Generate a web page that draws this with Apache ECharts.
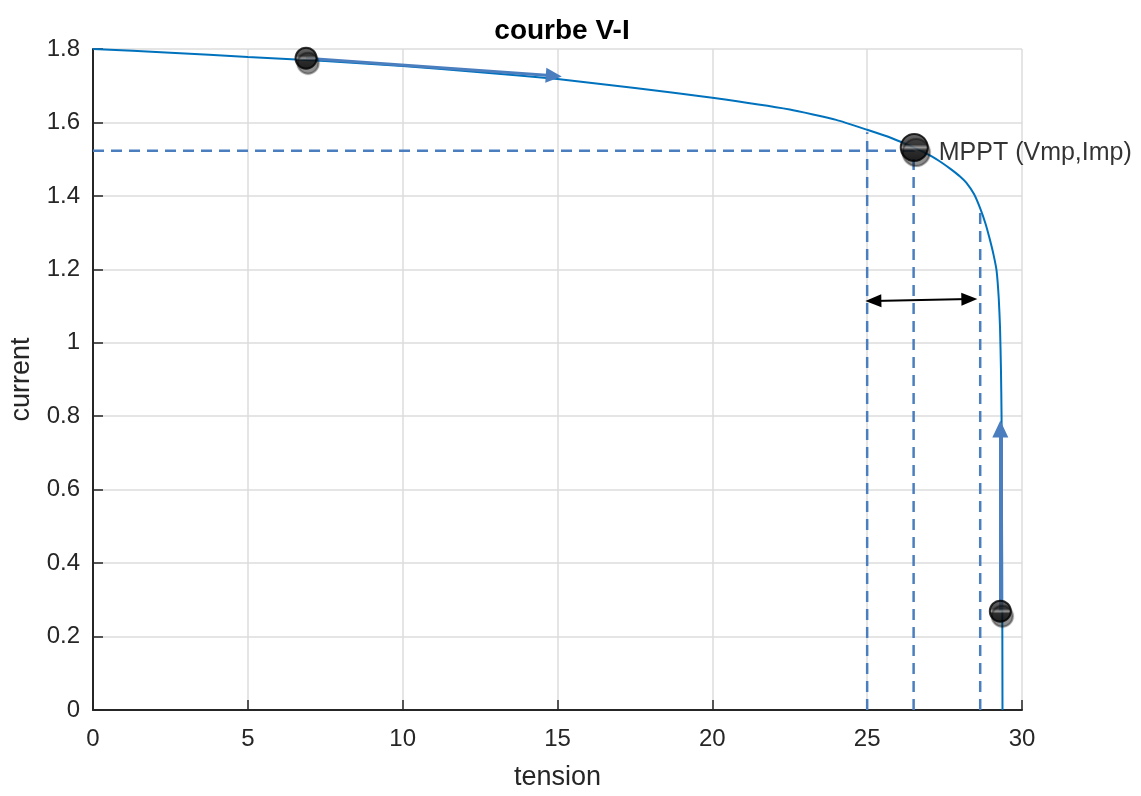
<!DOCTYPE html>
<html>
<head>
<meta charset="utf-8">
<script src="https://cdn.jsdelivr.net/npm/echarts@6/dist/echarts.min.js"></script>
<style>
  html, body {margin: 0; padding: 0; background: #fff; overflow: hidden;}
  #chart {width: 1141px; height: 796px;}
</style>
</head>
<body>
<div id="chart"></div>
<script>
// I-V curve
const tension = [0, 2.5, 5, 7.5, 10, 12.5, 15, 17.5, 20, 22.5, 24, 25, 25.8, 26.5, 27.1, 27.4, 27.7, 28.0, 28.2, 28.45, 28.65, 28.82, 28.95, 29.08, 29.18, 29.25, 29.29, 29.32, 29.34, 29.36, 29.37]
const current = [1.8, 1.79, 1.778, 1.767, 1.754, 1.737, 1.718, 1.694, 1.667, 1.635, 1.607, 1.58, 1.557, 1.532, 1.507, 1.491, 1.473, 1.453, 1.436, 1.405, 1.366, 1.325, 1.285, 1.24, 1.196, 1.12, 1.043, 0.93, 0.8, 0.4, 0]

// the three operating points (start, MPPT, end)
const pointV = [6.88, 26.52, 29.3]
const pointI = [1.775, 1.532, 0.269]

// MPPT projections and the tracking band
const vmp = 26.5
const imp = 1.523
const bandV = [25, 28.65]
const bandTop = [1.573, 1.366]
// double arrow, head centres
const bandArrowV = [25.2, 28.3]
const bandArrowI = [1.114, 1.119]

// direction arrows [[v0, i0], [v1, i1]] (end = head centre)
const arrowTop = [[6.88, 1.775], [14.88, 1.727]]
const arrowRight = [[29.3, 0.27], [29.3, 0.765]]

const xTicks = [0, 5, 10, 15, 20, 25, 30]
const yTicks = [0, 0.2, 0.4, 0.6, 0.8, 1, 1.2, 1.4, 1.6, 1.8]

const font = 'Liberation Sans'
const dashBlue = '#4a7ebf'
const ink = '#262626'

const curve = tension.map((v, i) => [v, current[i]])

function dashed(points) {
  return {
    type: 'line',
    data: points,
    symbol: 'none',
    silent: true,
    z: 2,
    lineStyle: {color: dashBlue, width: 2.5, type: [11, 7]}
  }
}

const sphere = {
  type: 'linear', x: 0, y: 0, x2: 0, y2: 1,
  colorStops: [
    {offset: 0, color: '#444'},
    {offset: 0.4, color: '#1e1e1e'},
    {offset: 0.5, color: '#9a9a9a'},
    {offset: 0.6, color: '#141414'},
    {offset: 1, color: '#000'}
  ]
}

const chart = echarts.init(document.getElementById('chart'))

chart.setOption({
  animation: false,
  title: {
    text: 'courbe V-I',
    left: 557,
    textAlign: 'center',
    top: 12,
    textStyle: {fontFamily: font, fontSize: 28, fontWeight: 'bold', color: '#000'}
  },
  grid: {left: 93, top: 49, width: 929, height: 668},
  xAxis: {
    type: 'value',
    min: xTicks[0],
    max: xTicks[xTicks.length - 1],
    interval: 5,
    name: 'tension',
    nameLocation: 'middle',
    nameGap: 54,
    nameTextStyle: {fontFamily: font, fontSize: 27, color: ink},
    axisLine: {lineStyle: {color: ink, width: 2}},
    axisTick: {inside: true, length: 10, lineStyle: {color: ink, width: 1.5}},
    axisLabel: {fontFamily: font, fontSize: 24, color: ink, margin: 17},
    splitLine: {show: true, lineStyle: {color: '#dcdcdc', width: 1.5}}
  },
  yAxis: {
    type: 'value',
    min: yTicks[0],
    max: yTicks[yTicks.length - 1],
    interval: 0.2,
    name: 'current',
    nameLocation: 'middle',
    nameGap: 58,
    nameTextStyle: {fontFamily: font, fontSize: 27, color: ink},
    axisLine: {show: true, lineStyle: {color: ink, width: 2}},
    axisTick: {show: true, inside: true, length: 10, lineStyle: {color: ink, width: 1.5}},
    axisLabel: {fontFamily: font, fontSize: 24, color: ink, margin: 13},
    splitLine: {show: true, lineStyle: {color: '#dcdcdc', width: 1.5}}
  },
  series: [
    dashed([[0, imp], [vmp, imp]]),
    dashed([[vmp, 0], [vmp, imp]]),
    dashed([[bandV[0], 0], [bandV[0], bandTop[0]]]),
    dashed([[bandV[1], 0], [bandV[1], bandTop[1]]]),
    {
      type: 'line',
      data: curve,
      symbol: 'none',
      smooth: 0.15,
      silent: true,
      z: 3,
      lineStyle: {color: '#0072bd', width: 2},
      markLine: {
        silent: true,
        animation: false,
        label: {show: false},
        data: [
          [
            {coord: arrowTop[0], symbol: 'none', lineStyle: {color: dashBlue, width: 3, type: 'solid'}},
            {coord: arrowTop[1], symbol: 'triangle', symbolSize: [15, 16]}
          ],
          [
            {coord: arrowRight[0], symbol: 'none', lineStyle: {color: dashBlue, width: 4, type: 'solid'}},
            {coord: arrowRight[1], symbol: 'triangle', symbolSize: [16, 17]}
          ],
          [
            {coord: [bandArrowV[0], bandArrowI[0]], symbol: 'triangle', symbolSize: [13, 16], lineStyle: {color: '#000', width: 2, type: 'solid'}},
            {coord: [bandArrowV[1], bandArrowI[1]], symbol: 'triangle', symbolSize: [13, 16]}
          ]
        ]
      }
    },
    {
      type: 'scatter',
      z: 5,
      silent: true,
      data: pointV.map((v, i) => ({
        value: [v, pointI[i]],
        symbolSize: i === 1 ? 27 : 21,
        label: i === 1 ? {
          show: true,
          position: 'right',
          distance: 10,
          offset: [0, 6],
          formatter: 'MPPT (Vmp,Imp)',
          fontFamily: font,
          fontSize: 25,
          color: '#000'
        } : {show: false}
      })),
      itemStyle: {
        color: sphere,
        borderColor: '#000',
        borderWidth: 2,
        shadowColor: 'rgba(0,0,0,0.55)',
        shadowBlur: 1,
        shadowOffsetX: 2,
        shadowOffsetY: 5
      }
    }
  ]
})
</script>
</body>
</html>
